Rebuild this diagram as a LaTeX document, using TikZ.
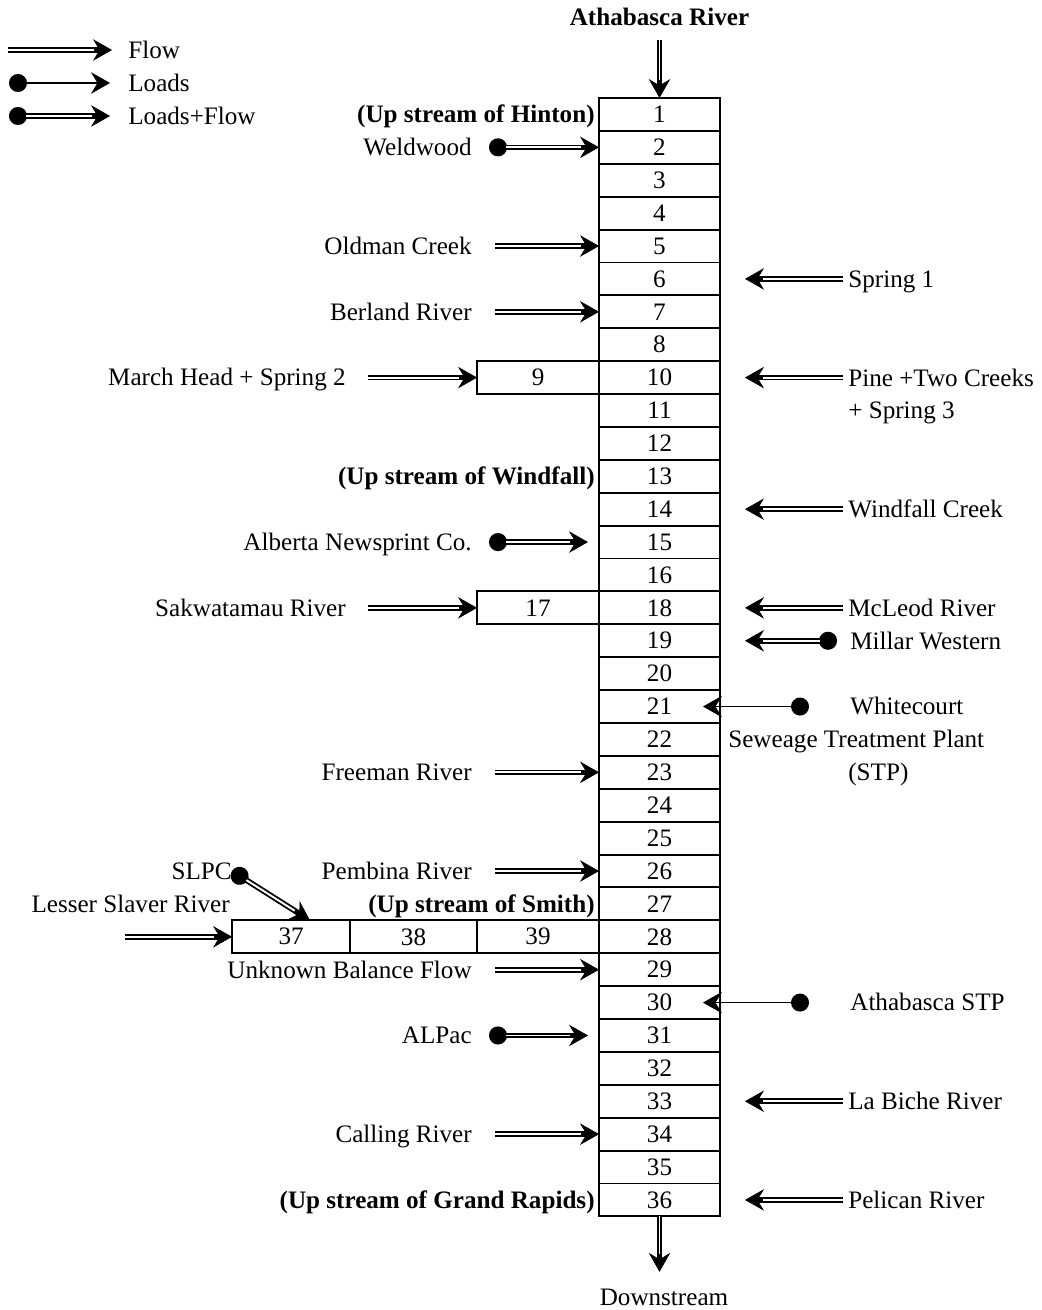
\documentclass[tikz,border=0pt]{standalone}
\usepackage{fontspec}
\setmainfont{Liberation Serif}
\usetikzlibrary{arrows.meta,positioning,calc}
\tikzset{
  >={Stealth[length=3.8mm, width=4.3mm, inset=1.3mm, line width=0.4pt]},
  cell/.style={rectangle, draw, line width=1.1pt, minimum width=2.42cm, minimum height=0.658cm,
               inner sep=0pt, outer sep=0pt, font=\fontsize{14.3}{17}\selectfont},
  sidecell/.style={cell, minimum width=2.44cm},
  lbl/.style={inner sep=0pt, text height=9.5pt, text depth=0pt, font=\fontsize{14.3}{17}\selectfont},
  lblbold/.style={lbl, font=\fontsize{14.3}{17}\selectfont\bfseries},
  lblmulti/.style={inner sep=0pt, align=left, font=\fontsize{14.3}{18.2}\selectfont},
  flow/.style 2 args={line width=3.2pt, ->, shorten <=#1, shorten >=#2,
    postaction={draw=white, line width=1.1pt, -, shorten <=#1, shorten >=#2+3.6mm}},
  loadflow/.style 2 args={line width=3.2pt, {Circle[length=3.6mm]}->, shorten <=#1, shorten >=#2,
    postaction={draw=white, line width=1.1pt, -, shorten <=#1+3.4mm, shorten >=#2+3.6mm}},
  load/.style 2 args={line width=0.9pt, {Circle[length=3.6mm]}->, shorten <=#1, shorten >=#2},
}
\begin{document}
\begin{tikzpicture}[x=0.02cm, y=-0.02cm]
\useasboundingbox (0,0) rectangle (1041,1310);
% main reach cells
\node[cell] (c1) at (659.5,114.45) {1};
\foreach \n [remember=\n as \p (initially 1)] in {2,...,8,10,11,...,16,18,19,...,36}
  \node[cell, below=0pt of c\p] (c\n) {\n};
% tributary cells
\node[sidecell, left=0pt of c10] (c9) {9};
\node[sidecell, left=0pt of c18] (c17) {17};
\node[sidecell, left=0pt of c28] (c39) {39};
\node[sidecell, minimum width=2.54cm, left=0pt of c39] (c38) {38};
\node[sidecell, minimum width=2.36cm, left=0pt of c38] (c37) {37};

% legend
\node[lbl, anchor=west] (kflow) at (128,50) {Flow};
\node[lbl, anchor=west] (kload) at (128,83) {Loads};
\node[lbl, anchor=west] (kboth) at (128,116) {Loads+Flow};
\coordinate (kflow0) at (8,50);
\coordinate (kload0) at (9,83);
\coordinate (kboth0) at (9,116);
\draw[flow={0pt}{0.32cm}] (kflow0) -- (kflow);
\draw[load={0pt}{0.36cm}] (kload0) -- (kload);
\draw[loadflow={0pt}{0.36cm}] (kboth0) -- (kboth);

% river in and out
\node[lblbold] (athr) at (659.5,17) {Athabasca River};
\node[lbl] (down) at (664,1297) {Downstream};
\draw[flow={0.29cm}{0pt}] (athr) -- (c1);
\draw[flow={0pt}{0.33cm}] (c36.south) -- (c36.south |- down.north);

% reach markers
\foreach \r/\t in {1/Hinton, 13/Windfall, 27/Smith, 36/Grand Rapids}
  \node[lblbold, anchor=east] (up\r) at (595,0 |- c\r) {(Up stream of \t)};

% left side
\foreach \r/\t in {5/Oldman Creek, 7/Berland River, 23/Freeman River, 26/Pembina River,
                   29/Unknown Balance Flow, 34/Calling River} {
  \node[lbl, anchor=east] (lt\r) at (472,0 |- c\r) {\t};
  \draw[flow={0.46cm}{0pt}] (lt\r) -- (c\r);
}
\foreach \r/\t/\e in {2/Weldwood/0pt, 15/Alberta Newsprint Co./0.22cm, 31/ALPac/0.22cm} {
  \node[lbl, anchor=east] (lt\r) at (472,0 |- c\r) {\t};
  \draw[loadflow={0.34cm}{\e}] (lt\r) -- (c\r);
}
\node[lbl, anchor=east] (lt9) at (346,0 |- c9) {March Head + Spring 2};
\draw[flow={0.44cm}{0pt}] (lt9) -- (c9);
\node[lbl, anchor=east] (lt17) at (346,0 |- c17) {Sakwatamau River};
\draw[flow={0.44cm}{0pt}] (lt17) -- (c17);
\node[lbl, anchor=east] (lt37) at (230,0 |- c27) {Lesser Slaver River};
\coordinate (lt37a) at (125,0 |- c37);
\draw[flow={0pt}{0pt}] (lt37a) -- (c37);
\node[lbl, anchor=east] (slpc) at (232,0 |- c26) {SLPC};
\draw[loadflow={0pt}{0pt}] (slpc.east) -- ($(c37.north west)!0.66!(c37.north east)$);

% right side
\foreach \r/\t in {6/Spring 1, 14/Windfall Creek, 18/McLeod River, 33/La Biche River, 36/Pelican River} {
  \node[lbl, anchor=west] (rt\r) at (848,0 |- c\r) {\t};
  \draw[flow={0.1cm}{0.5cm}] (rt\r) -- (c\r);
}
\node[lblmulti, anchor=base west] (rt10) at (848,418.4) {Pine +Two Creeks\\+ Spring 3};
\draw[flow={0.1cm}{0.5cm}] (rt10.west |- c10) -- (c10);
\node[lbl, anchor=west] (rt19) at (850,0 |- c19) {Millar Western};
\draw[loadflow={0.26cm}{0.5cm}] (rt19) -- (c19);
\node[lbl, anchor=west] (rt21) at (850,0 |- c21) {Whitecourt};
\node[lbl, anchor=west] (stp1) at (728,0 |- c22) {Seweage Treatment Plant};
\node[lbl, anchor=west] (stp2) at (848,0 |- c23) {(STP)};
\draw[load={0.82cm}{-0.34cm}] (rt21) -- (c21);
\node[lbl, anchor=west] (rt30) at (850,0 |- c30) {Athabasca STP};
\draw[load={0.82cm}{-0.34cm}] (rt30) -- (c30);
\end{tikzpicture}
\end{document}
